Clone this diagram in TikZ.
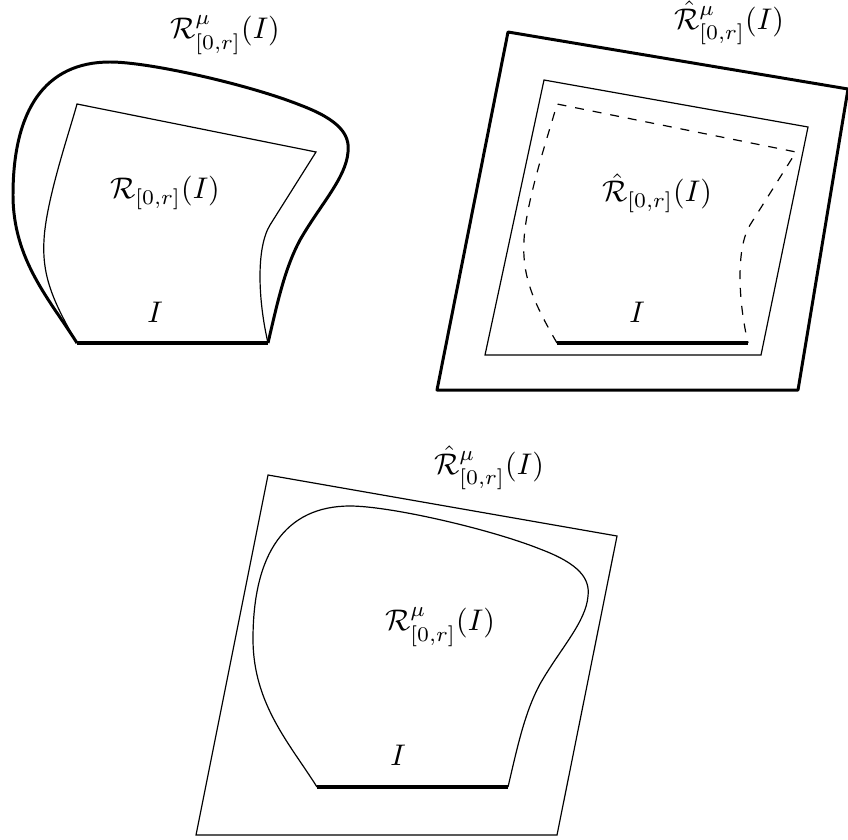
\documentclass[tikz,border=0pt]{standalone}
\usepackage{amsmath}
\begin{document}
\begin{tikzpicture}[x=0.335pt,y=-0.335pt,
  thinline/.style={line width=0.4pt},
  thickline/.style={line width=1.0pt, line join=round},
  baseline/.style={line width=1.5pt},
  lbl/.style={inner sep=0pt}]
\useasboundingbox (0,0) rectangle (848,839);

% ---------- panel 1 ----------
\coordinate (p1a) at (77,343);
\coordinate (p1b) at (268,343);
% outer reachable set (thick)
\draw[thickline] (p1a) .. controls (50,300) and (13,260) .. (13,195)
  .. controls (13,110) and (45,62) .. (110,62)
  .. controls (150,62) and (250,85) .. (300,105)
  .. controls (340,120) and (350,135) .. (348,152)
  .. controls (346,178) and (320,205) .. (300,240)
  .. controls (285,268) and (278,300) .. (p1b);
% inner reachable set (thin)
\draw[thinline] (p1a) .. controls (52,300) and (42,275) .. (44,240)
  .. controls (46,200) and (70,130) .. (77,104)
  -- (316,152) -- (270,225)
  .. controls (256,248) and (258,300) .. (p1b);
\draw[baseline] (p1a) -- (p1b);
\node[lbl] (l1mu) at (225,35) {$\mathcal{R}^{\mu}_{[0,r]}(I)$};
\node[lbl] (l1r) at (165,193) {$\mathcal{R}_{[0,r]}(I)$};
\node[lbl] (l1i) at (155,312) {$I$};

% ---------- panel 2 ----------
\draw[thickline] (508,32) -- (848,89) -- (798,390) -- (437,390) -- cycle;
\draw[thinline] (544,80) -- (808,127) -- (761,355) -- (485,355) -- cycle;
\begin{scope}[shift={(480,0)}]
\coordinate (p2a) at (77,343);
\coordinate (p2b) at (268,343);
\draw[thinline, dashed] (p2a) .. controls (52,300) and (42,275) .. (44,240)
  .. controls (46,200) and (70,130) .. (77,104)
  -- (316,152) -- (270,225)
  .. controls (256,248) and (258,300) .. (p2b);
\draw[baseline] (p2a) -- (p2b);
\end{scope}
\node[lbl] (l2mu) at (729,23) {$\hat{\mathcal{R}}^{\mu}_{[0,r]}(I)$};
\node[lbl] (l2r) at (657,193) {$\hat{\mathcal{R}}_{[0,r]}(I)$};
\node[lbl] (l2i) at (637,312) {$I$};

% ---------- panel 3 ----------
\draw[thinline] (268,475) -- (617,536) -- (557,835) -- (196,835) -- cycle;
\begin{scope}[shift={(240,444)}]
\coordinate (p3a) at (77,343);
\coordinate (p3b) at (268,343);
\draw[thinline] (p3a) .. controls (50,300) and (13,260) .. (13,195)
  .. controls (13,110) and (45,62) .. (110,62)
  .. controls (150,62) and (250,85) .. (300,105)
  .. controls (340,120) and (350,135) .. (348,152)
  .. controls (346,178) and (320,205) .. (300,240)
  .. controls (285,268) and (278,300) .. (p3b);
\draw[baseline] (p3a) -- (p3b);
\end{scope}
\node[lbl] (l3mu) at (489,468) {$\hat{\mathcal{R}}^{\mu}_{[0,r]}(I)$};
\node[lbl] (l3r) at (440,627) {$\mathcal{R}^{\mu}_{[0,r]}(I)$};
\node[lbl] (l3i) at (398,755) {$I$};
\end{tikzpicture}
\end{document}
